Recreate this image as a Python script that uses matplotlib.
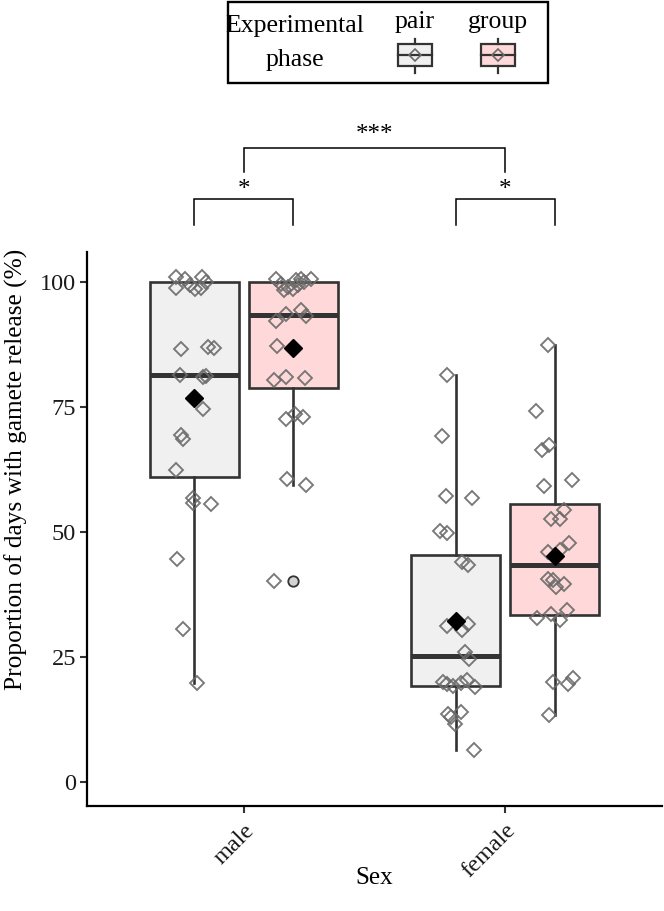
import numpy as np
import matplotlib
matplotlib.use("Agg")
import matplotlib.pyplot as plt
from matplotlib.patches import Rectangle

plt.rcParams['font.family'] = ['Liberation Serif', 'DejaVu Serif']

# ---------------- data ----------------
sexes = ["male", "female"]
phases = ["pair", "group"]
phase_colors = {"pair": "#F0F0F0", "group": "#FFD9D9"}

male_pair = [100, 100, 100, 100, 100, 100, 100, 100, 87.1, 86.9, 86.7, 81.5, 81.0, 81.3,
             74.7, 69.5, 68.6, 62.4, 56.9, 55.9, 55.7, 44.6, 30.6, 19.8]
male_pair_dx = [-0.068, -0.036, -0.017, -0.068, 0.002, 0.031, 0.047, 0.028, 0.053, 0.075, -0.049,
                -0.055, 0.034, 0.047, 0.034, -0.049, -0.043, -0.068, -0.005, -0.005, 0.066,
                -0.066, -0.043, 0.012]
male_pair_dy = [1.1, 0.6, -0.6, -1.1, -1.3, 1.1, 0.1, -1.1]

male_group = [100, 100, 100, 100, 100, 100, 100, 100, 100, 100, 93.6, 94.4, 93.2, 92.2, 87.2,
              80.4, 81.1, 80.9, 72.7, 73.7, 73.1, 60.7, 59.5, 40.2]
male_group_dx = [-0.067, -0.048, -0.022, 0.010, 0.029, 0.067, -0.035, 0.016, 0.041, -0.003,
                 -0.029, 0.029, 0.048, -0.067, -0.063, -0.073, -0.029, 0.045, -0.029, 0.006,
                 0.035, -0.025, 0.048, -0.073]
male_group_dy = [0.7, -0.3, -0.9, 0.4, 0.6, 0.7, -1.6, -0.6, 0.1, -1.3]

female_pair = [81.4, 69.2, 57.3, 56.9, 50.3, 49.9, 44.0, 43.5, 31.2, 30.4, 31.6, 26.0, 24.6,
               20.1, 19.6, 19.2, 19.9, 20.4, 19.0, 13.6, 14.1, 11.7, 13.0, 6.5]
female_pair_dx = [-0.034, -0.050, -0.037, 0.062, -0.059, -0.034, 0.024, 0.047, -0.031, 0.024,
                  0.049, 0.036, 0.052, -0.049, -0.034, -0.011, 0.021, 0.043, 0.075, -0.028,
                  0.021, -0.002, -0.017, 0.071]

female_group = [87.4, 74.2, 66.5, 67.4, 59.3, 60.4, 52.7, 52.7, 54.4, 46.1, 46.4, 47.9, 40.7,
                40.4, 39.1, 39.7, 32.9, 33.7, 32.4, 34.5, 20.1, 19.6, 20.9, 13.4]
female_group_dx = [-0.027, -0.072, -0.049, -0.021, -0.042, 0.066, -0.015, 0.021, 0.036, -0.027,
                   0.021, 0.053, -0.027, -0.008, 0.005, 0.036, -0.068, -0.015, 0.021, 0.047,
                   -0.008, 0.049, 0.068, -0.021]

y_ticks = [0, 25, 50, 75, 100]
within_sex_labels = ["*", "*"]
between_sex_label = "***"

# ---------------- figure ----------------
W, H = 664, 911
fig = plt.figure(figsize=(W / 100, H / 100), dpi=100)
ax_l, ax_r, ax_b, ax_t = 87, 662, 806, 252
ax = fig.add_axes([ax_l / W, 1 - ax_b / H, (ax_r - ax_l) / W, (ax_b - ax_t) / H])

dodge = 0.19
box_w = 0.34
edge = "#333333"
pt_edge = "#6a6a6a"

groups = [
    (male_pair, male_pair_dx, male_pair_dy, 1 - dodge, "pair"),
    (male_group, male_group_dx, male_group_dy, 1 + dodge, "group"),
    (female_pair, female_pair_dx, [], 2 - dodge, "pair"),
    (female_group, female_group_dx, [], 2 + dodge, "group"),
]

bp = ax.boxplot([g[0] for g in groups], positions=[g[3] for g in groups], widths=box_w,
                whis=1.5, patch_artist=True, showcaps=False, manage_ticks=False,
                boxprops=dict(edgecolor=edge, linewidth=1.9),
                whiskerprops=dict(color=edge, linewidth=1.9),
                medianprops=dict(color=edge, linewidth=3.6, solid_capstyle='butt'),
                flierprops=dict(marker='o', markerfacecolor='#D3D3D3', markeredgecolor=edge,
                                markersize=7.5, markeredgewidth=1.3),
                zorder=2)
for patch, g in zip(bp['boxes'], groups):
    patch.set_facecolor(phase_colors[g[4]])

for vals, dx, dy, pos, ph in groups:
    v = np.array(vals, dtype=float)
    jy = np.zeros_like(v)
    jy[:len(dy)] = dy
    ax.plot(pos + np.array(dx), v + jy, linestyle='none', marker='D', markersize=7.0,
            markerfacecolor='none', markeredgecolor=pt_edge, markeredgewidth=1.35,
            alpha=0.9, zorder=3)
    ax.plot([pos], [np.mean(v)], linestyle='none', marker='D', markersize=8.8,
            markerfacecolor='black', markeredgecolor='black', zorder=4)

ax.set_xlim(0.4, 2.6)
ax.set_ylim(-4.8, 106)
ax.set_xticks([1, 2])
ax.set_xticklabels(sexes, rotation=45, ha='right', va='top', rotation_mode='anchor',
                   fontsize=17.5)
ax.set_yticks(y_ticks)
ax.set_yticklabels([str(t) for t in y_ticks], fontsize=17.5)
ax.tick_params(axis='both', length=5, width=1.5, color=edge, labelcolor='#1a1a1a', pad=3)
ax.tick_params(axis='x', pad=5)
for s in ['top', 'right']:
    ax.spines[s].set_visible(False)
for s in ['left', 'bottom']:
    ax.spines[s].set_linewidth(1.6)
    ax.spines[s].set_color('black')
ax.set_xlabel("Sex", fontsize=18)
ax.xaxis.set_label_coords(0.5, (806 - 867) / (806 - 252))
ax.set_ylabel("Proportion of days with gamete release (%)", fontsize=18.3)
ax.yaxis.set_label_coords((28 - 87) / (662 - 87), (806 - 469) / (806 - 252))

# significance brackets
blw = 1.1
for sex_i, lab in zip([1, 2], within_sex_labels):
    x0, x1 = sex_i - dodge, sex_i + dodge
    ax.plot([x0, x0, x1, x1], [111.4, 116.6, 116.6, 111.4], color='black', lw=blw,
            clip_on=False, solid_joinstyle='miter')
    ax.text(sex_i, 116.3, lab, ha='center', va='bottom', fontsize=18, clip_on=False)
ax.plot([1, 1, 2, 2], [122.1, 126.9, 126.9, 122.1], color='black', lw=blw, clip_on=False,
        solid_joinstyle='miter')
ax.text(1.5, 127.3, between_sex_label, ha='center', va='bottom', fontsize=18, clip_on=False)

# legend (drawn in pixel space)
lax = fig.add_axes([0, 0, 1, 1], facecolor='none')
lax.set_xlim(0, W)
lax.set_ylim(H, 0)
lax.axis('off')
lax.add_patch(Rectangle((228, 2), 320, 81, fill=False, edgecolor='black', lw=1.7))
lax.text(295, 26, "Experimental", ha='center', va='center', fontsize=18.5)
lax.text(295, 60, "phase", ha='center', va='center', fontsize=18.5)
for cx, ph in zip([415, 498], phases):
    lax.text(cx, 22, ph, ha='center', va='center', fontsize=18.5)
    lax.add_patch(Rectangle((cx - 17, 44), 34, 22, facecolor=phase_colors[ph],
                            edgecolor=edge, lw=1.6))
    lax.plot([cx - 17, cx + 17], [55, 55], color=edge, lw=1.6)
    lax.plot([cx, cx], [39, 44], color=edge, lw=1.6)
    lax.plot([cx, cx], [66, 73], color=edge, lw=1.6)
    lax.plot([cx], [55], marker='D', markersize=6.5, markerfacecolor='none',
             markeredgecolor=pt_edge, markeredgewidth=1.2)

fig.savefig("out.png", dpi=100)
